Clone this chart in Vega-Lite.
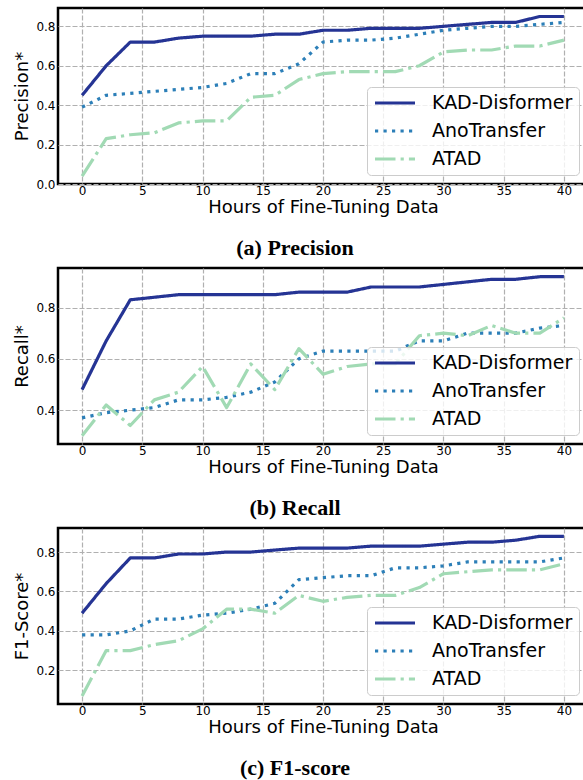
{
  "$schema": "https://vega.github.io/schema/vega-lite/v6.json",
  "autosize": {"type": "pad"},
  "padding": {"top": 6, "left": 12, "right": 0, "bottom": 0},
  "background": "white",
  "bounds": "flush",
  "spacing": 84,
  "datasets": {
    "precision": [
      {"hours":0,"method":"KAD-Disformer","value":0.45},{"hours":2,"method":"KAD-Disformer","value":0.60},{"hours":4,"method":"KAD-Disformer","value":0.72},{"hours":6,"method":"KAD-Disformer","value":0.72},{"hours":8,"method":"KAD-Disformer","value":0.74},{"hours":10,"method":"KAD-Disformer","value":0.75},{"hours":12,"method":"KAD-Disformer","value":0.75},{"hours":14,"method":"KAD-Disformer","value":0.75},{"hours":16,"method":"KAD-Disformer","value":0.76},{"hours":18,"method":"KAD-Disformer","value":0.76},{"hours":20,"method":"KAD-Disformer","value":0.78},{"hours":22,"method":"KAD-Disformer","value":0.78},{"hours":24,"method":"KAD-Disformer","value":0.79},{"hours":26,"method":"KAD-Disformer","value":0.79},{"hours":28,"method":"KAD-Disformer","value":0.79},{"hours":30,"method":"KAD-Disformer","value":0.80},{"hours":32,"method":"KAD-Disformer","value":0.81},{"hours":34,"method":"KAD-Disformer","value":0.82},{"hours":36,"method":"KAD-Disformer","value":0.82},{"hours":38,"method":"KAD-Disformer","value":0.85},{"hours":40,"method":"KAD-Disformer","value":0.85},
      {"hours":0,"method":"AnoTransfer","value":0.39},{"hours":2,"method":"AnoTransfer","value":0.45},{"hours":4,"method":"AnoTransfer","value":0.46},{"hours":6,"method":"AnoTransfer","value":0.47},{"hours":8,"method":"AnoTransfer","value":0.48},{"hours":10,"method":"AnoTransfer","value":0.49},{"hours":12,"method":"AnoTransfer","value":0.51},{"hours":14,"method":"AnoTransfer","value":0.56},{"hours":16,"method":"AnoTransfer","value":0.56},{"hours":18,"method":"AnoTransfer","value":0.61},{"hours":20,"method":"AnoTransfer","value":0.72},{"hours":22,"method":"AnoTransfer","value":0.73},{"hours":24,"method":"AnoTransfer","value":0.73},{"hours":26,"method":"AnoTransfer","value":0.74},{"hours":28,"method":"AnoTransfer","value":0.76},{"hours":30,"method":"AnoTransfer","value":0.78},{"hours":32,"method":"AnoTransfer","value":0.79},{"hours":34,"method":"AnoTransfer","value":0.80},{"hours":36,"method":"AnoTransfer","value":0.80},{"hours":38,"method":"AnoTransfer","value":0.81},{"hours":40,"method":"AnoTransfer","value":0.82},
      {"hours":0,"method":"ATAD","value":0.04},{"hours":2,"method":"ATAD","value":0.23},{"hours":4,"method":"ATAD","value":0.25},{"hours":6,"method":"ATAD","value":0.26},{"hours":8,"method":"ATAD","value":0.31},{"hours":10,"method":"ATAD","value":0.32},{"hours":12,"method":"ATAD","value":0.32},{"hours":14,"method":"ATAD","value":0.44},{"hours":16,"method":"ATAD","value":0.45},{"hours":18,"method":"ATAD","value":0.53},{"hours":20,"method":"ATAD","value":0.56},{"hours":22,"method":"ATAD","value":0.57},{"hours":24,"method":"ATAD","value":0.57},{"hours":26,"method":"ATAD","value":0.57},{"hours":28,"method":"ATAD","value":0.60},{"hours":30,"method":"ATAD","value":0.67},{"hours":32,"method":"ATAD","value":0.68},{"hours":34,"method":"ATAD","value":0.68},{"hours":36,"method":"ATAD","value":0.70},{"hours":38,"method":"ATAD","value":0.70},{"hours":40,"method":"ATAD","value":0.73}
    ],
    "recall": [
      {"hours":0,"method":"KAD-Disformer","value":0.48},{"hours":2,"method":"KAD-Disformer","value":0.67},{"hours":4,"method":"KAD-Disformer","value":0.83},{"hours":6,"method":"KAD-Disformer","value":0.84},{"hours":8,"method":"KAD-Disformer","value":0.85},{"hours":10,"method":"KAD-Disformer","value":0.85},{"hours":12,"method":"KAD-Disformer","value":0.85},{"hours":14,"method":"KAD-Disformer","value":0.85},{"hours":16,"method":"KAD-Disformer","value":0.85},{"hours":18,"method":"KAD-Disformer","value":0.86},{"hours":20,"method":"KAD-Disformer","value":0.86},{"hours":22,"method":"KAD-Disformer","value":0.86},{"hours":24,"method":"KAD-Disformer","value":0.88},{"hours":26,"method":"KAD-Disformer","value":0.88},{"hours":28,"method":"KAD-Disformer","value":0.88},{"hours":30,"method":"KAD-Disformer","value":0.89},{"hours":32,"method":"KAD-Disformer","value":0.90},{"hours":34,"method":"KAD-Disformer","value":0.91},{"hours":36,"method":"KAD-Disformer","value":0.91},{"hours":38,"method":"KAD-Disformer","value":0.92},{"hours":40,"method":"KAD-Disformer","value":0.92},
      {"hours":0,"method":"AnoTransfer","value":0.37},{"hours":2,"method":"AnoTransfer","value":0.39},{"hours":4,"method":"AnoTransfer","value":0.40},{"hours":6,"method":"AnoTransfer","value":0.41},{"hours":8,"method":"AnoTransfer","value":0.44},{"hours":10,"method":"AnoTransfer","value":0.44},{"hours":12,"method":"AnoTransfer","value":0.45},{"hours":14,"method":"AnoTransfer","value":0.47},{"hours":16,"method":"AnoTransfer","value":0.51},{"hours":18,"method":"AnoTransfer","value":0.60},{"hours":20,"method":"AnoTransfer","value":0.63},{"hours":22,"method":"AnoTransfer","value":0.63},{"hours":24,"method":"AnoTransfer","value":0.63},{"hours":26,"method":"AnoTransfer","value":0.63},{"hours":28,"method":"AnoTransfer","value":0.67},{"hours":30,"method":"AnoTransfer","value":0.67},{"hours":32,"method":"AnoTransfer","value":0.70},{"hours":34,"method":"AnoTransfer","value":0.70},{"hours":36,"method":"AnoTransfer","value":0.70},{"hours":38,"method":"AnoTransfer","value":0.72},{"hours":40,"method":"AnoTransfer","value":0.73},
      {"hours":0,"method":"ATAD","value":0.30},{"hours":2,"method":"ATAD","value":0.42},{"hours":4,"method":"ATAD","value":0.34},{"hours":6,"method":"ATAD","value":0.44},{"hours":8,"method":"ATAD","value":0.47},{"hours":10,"method":"ATAD","value":0.57},{"hours":12,"method":"ATAD","value":0.41},{"hours":14,"method":"ATAD","value":0.58},{"hours":16,"method":"ATAD","value":0.48},{"hours":18,"method":"ATAD","value":0.64},{"hours":20,"method":"ATAD","value":0.54},{"hours":22,"method":"ATAD","value":0.57},{"hours":24,"method":"ATAD","value":0.58},{"hours":26,"method":"ATAD","value":0.58},{"hours":28,"method":"ATAD","value":0.69},{"hours":30,"method":"ATAD","value":0.70},{"hours":32,"method":"ATAD","value":0.69},{"hours":34,"method":"ATAD","value":0.73},{"hours":36,"method":"ATAD","value":0.70},{"hours":38,"method":"ATAD","value":0.70},{"hours":40,"method":"ATAD","value":0.76}
    ],
    "f1": [
      {"hours":0,"method":"KAD-Disformer","value":0.49},{"hours":2,"method":"KAD-Disformer","value":0.64},{"hours":4,"method":"KAD-Disformer","value":0.77},{"hours":6,"method":"KAD-Disformer","value":0.77},{"hours":8,"method":"KAD-Disformer","value":0.79},{"hours":10,"method":"KAD-Disformer","value":0.79},{"hours":12,"method":"KAD-Disformer","value":0.80},{"hours":14,"method":"KAD-Disformer","value":0.80},{"hours":16,"method":"KAD-Disformer","value":0.81},{"hours":18,"method":"KAD-Disformer","value":0.82},{"hours":20,"method":"KAD-Disformer","value":0.82},{"hours":22,"method":"KAD-Disformer","value":0.82},{"hours":24,"method":"KAD-Disformer","value":0.83},{"hours":26,"method":"KAD-Disformer","value":0.83},{"hours":28,"method":"KAD-Disformer","value":0.83},{"hours":30,"method":"KAD-Disformer","value":0.84},{"hours":32,"method":"KAD-Disformer","value":0.85},{"hours":34,"method":"KAD-Disformer","value":0.85},{"hours":36,"method":"KAD-Disformer","value":0.86},{"hours":38,"method":"KAD-Disformer","value":0.88},{"hours":40,"method":"KAD-Disformer","value":0.88},
      {"hours":0,"method":"AnoTransfer","value":0.38},{"hours":2,"method":"AnoTransfer","value":0.38},{"hours":4,"method":"AnoTransfer","value":0.40},{"hours":6,"method":"AnoTransfer","value":0.46},{"hours":8,"method":"AnoTransfer","value":0.46},{"hours":10,"method":"AnoTransfer","value":0.48},{"hours":12,"method":"AnoTransfer","value":0.49},{"hours":14,"method":"AnoTransfer","value":0.51},{"hours":16,"method":"AnoTransfer","value":0.54},{"hours":18,"method":"AnoTransfer","value":0.66},{"hours":20,"method":"AnoTransfer","value":0.67},{"hours":22,"method":"AnoTransfer","value":0.68},{"hours":24,"method":"AnoTransfer","value":0.68},{"hours":26,"method":"AnoTransfer","value":0.72},{"hours":28,"method":"AnoTransfer","value":0.72},{"hours":30,"method":"AnoTransfer","value":0.73},{"hours":32,"method":"AnoTransfer","value":0.75},{"hours":34,"method":"AnoTransfer","value":0.75},{"hours":36,"method":"AnoTransfer","value":0.75},{"hours":38,"method":"AnoTransfer","value":0.75},{"hours":40,"method":"AnoTransfer","value":0.77},
      {"hours":0,"method":"ATAD","value":0.07},{"hours":2,"method":"ATAD","value":0.30},{"hours":4,"method":"ATAD","value":0.30},{"hours":6,"method":"ATAD","value":0.33},{"hours":8,"method":"ATAD","value":0.35},{"hours":10,"method":"ATAD","value":0.41},{"hours":12,"method":"ATAD","value":0.51},{"hours":14,"method":"ATAD","value":0.51},{"hours":16,"method":"ATAD","value":0.49},{"hours":18,"method":"ATAD","value":0.58},{"hours":20,"method":"ATAD","value":0.55},{"hours":22,"method":"ATAD","value":0.57},{"hours":24,"method":"ATAD","value":0.58},{"hours":26,"method":"ATAD","value":0.58},{"hours":28,"method":"ATAD","value":0.62},{"hours":30,"method":"ATAD","value":0.69},{"hours":32,"method":"ATAD","value":0.70},{"hours":34,"method":"ATAD","value":0.71},{"hours":36,"method":"ATAD","value":0.71},{"hours":38,"method":"ATAD","value":0.71},{"hours":40,"method":"ATAD","value":0.74}
    ]
  },
  "resolve": {
    "scale": {"y": "independent", "color": "independent", "strokeDash": "independent"},
    "legend": {"color": "independent", "strokeDash": "independent"}
  },
  "vconcat": [
    {
      "data": {"name": "precision"},
      "width": 530, "height": 176,
      "title": {"text": "(a) Precision"},
      "mark": {"type": "line", "strokeWidth": 3.2, "strokeCap": "butt", "strokeJoin": "round"},
      "encoding": {
        "x": {"field": "hours", "type": "quantitative", "scale": {"domain": [-2, 42], "nice": false, "zero": false},
              "axis": {"title": "Hours of Fine-Tuning Data", "values": [0,5,10,15,20,25,30,35,40]}},
        "y": {"field": "value", "type": "quantitative", "scale": {"domain": [0, 0.893], "nice": false, "zero": false},
              "axis": {"title": "Precision*", "values": [0,0.2,0.4,0.6,0.8], "format": ".1f"}},
        "color": {"field": "method", "type": "nominal", "scale": {"domain": ["KAD-Disformer","AnoTransfer","ATAD"], "range": ["#253494","#2c7fb8","#a1dab4"]}, "legend": {"title": null}},
        "strokeDash": {"field": "method", "type": "nominal", "scale": {"domain": ["KAD-Disformer","AnoTransfer","ATAD"], "range": [[1,0],[3.2,5.3],[20.5,5.1,3.2,5.1]]}, "legend": {"title": null}}
      }
    },
    {
      "data": {"name": "recall"},
      "width": 530, "height": 176,
      "title": {"text": "(b) Recall"},
      "mark": {"type": "line", "strokeWidth": 3.2, "strokeCap": "butt", "strokeJoin": "round"},
      "encoding": {
        "x": {"field": "hours", "type": "quantitative", "scale": {"domain": [-2, 42], "nice": false, "zero": false},
              "axis": {"title": "Hours of Fine-Tuning Data", "values": [0,5,10,15,20,25,30,35,40]}},
        "y": {"field": "value", "type": "quantitative", "scale": {"domain": [0.268, 0.954], "nice": false, "zero": false},
              "axis": {"title": "Recall*", "values": [0.4,0.6,0.8], "format": ".1f"}},
        "color": {"field": "method", "type": "nominal", "scale": {"domain": ["KAD-Disformer","AnoTransfer","ATAD"], "range": ["#253494","#2c7fb8","#a1dab4"]}, "legend": {"title": null}},
        "strokeDash": {"field": "method", "type": "nominal", "scale": {"domain": ["KAD-Disformer","AnoTransfer","ATAD"], "range": [[1,0],[3.2,5.3],[20.5,5.1,3.2,5.1]]}, "legend": {"title": null}}
      }
    },
    {
      "data": {"name": "f1"},
      "width": 530, "height": 176,
      "title": {"text": "(c) F1-score"},
      "mark": {"type": "line", "strokeWidth": 3.2, "strokeCap": "butt", "strokeJoin": "round"},
      "encoding": {
        "x": {"field": "hours", "type": "quantitative", "scale": {"domain": [-2, 42], "nice": false, "zero": false},
              "axis": {"title": "Hours of Fine-Tuning Data", "values": [0,5,10,15,20,25,30,35,40]}},
        "y": {"field": "value", "type": "quantitative", "scale": {"domain": [0.029, 0.922], "nice": false, "zero": false},
              "axis": {"title": "F1-Score*", "values": [0.2,0.4,0.6,0.8], "format": ".1f"}},
        "color": {"field": "method", "type": "nominal", "scale": {"domain": ["KAD-Disformer","AnoTransfer","ATAD"], "range": ["#253494","#2c7fb8","#a1dab4"]}, "legend": {"title": null}},
        "strokeDash": {"field": "method", "type": "nominal", "scale": {"domain": ["KAD-Disformer","AnoTransfer","ATAD"], "range": [[1,0],[3.2,5.3],[20.5,5.1,3.2,5.1]]}, "legend": {"title": null}}
      }
    }
  ],
  "config": {
    "view": {"stroke": "#000000", "strokeWidth": 2.5},
    "axis": {
      "labelFont": "DejaVu Sans", "labelFontSize": 12, "labelColor": "#000000",
      "titleFont": "DejaVu Sans", "titleFontSize": 18, "titleFontWeight": "normal", "titleColor": "#000000",
      "domain": false, "ticks": false, "grid": true,
      "gridColor": "#b0b0b0", "gridDash": [5, 2], "gridWidth": 1.2
    },
    "axisX": {"labelPadding": 1, "titlePadding": 2},
    "axisY": {"labelPadding": 3, "titlePadding": 4},
    "legend": {
      "orient": "bottom-right", "offset": 9, "padding": 6,
      "labelFont": "DejaVu Sans", "labelFontSize": 19, "labelColor": "#000000",
      "symbolType": "stroke", "symbolSize": 1600, "symbolStrokeWidth": 3.2,
      "labelOffset": 15, "rowPadding": 8, "clipHeight": 20,
      "fillColor": "rgba(255,255,255,0.8)", "strokeColor": "#cccccc", "cornerRadius": 4
    },
    "title": {
      "orient": "bottom", "anchor": "middle", "font": "Liberation Serif", "fontSize": 22,
      "fontWeight": "bold", "color": "#000000", "baseline": "alphabetic", "offset": 22, "dx": -28
    }
  }
}
